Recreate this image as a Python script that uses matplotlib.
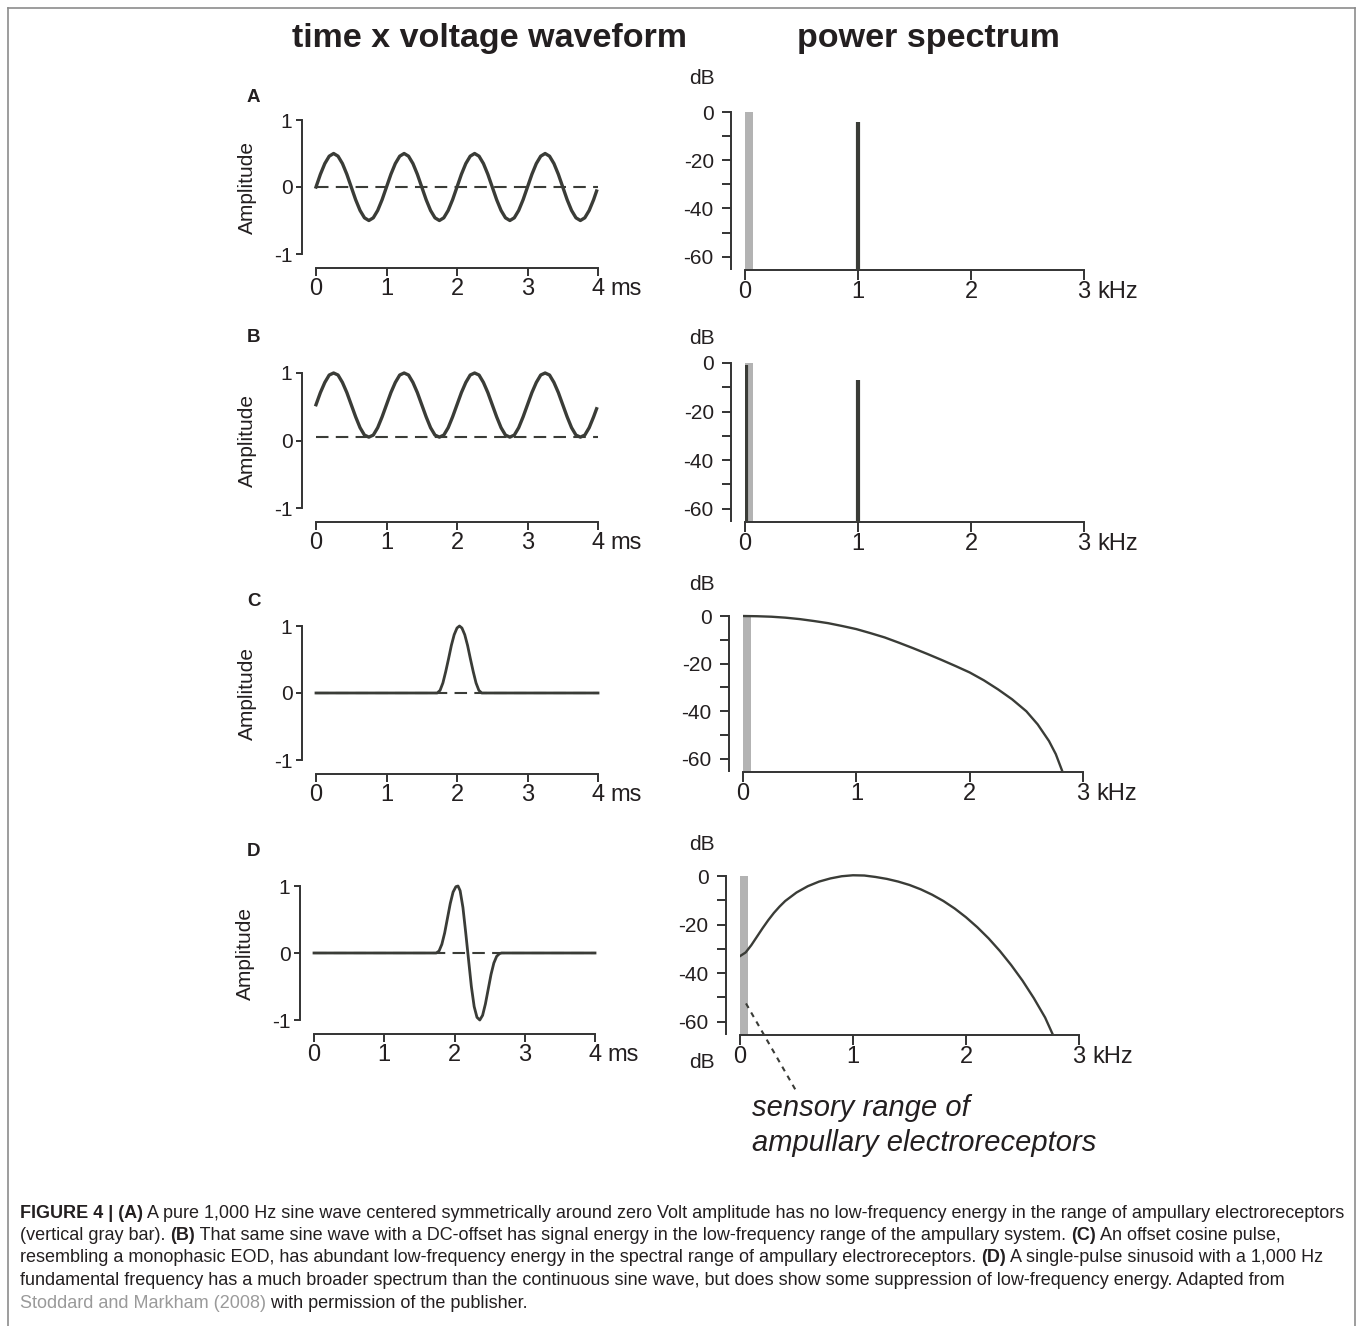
import numpy as np
import matplotlib
matplotlib.use("Agg")
import matplotlib.pyplot as plt

plt.rcParams['font.family'] = ['Liberation Sans', 'DejaVu Sans']

# ---- data ----
# one cycle of the 1 kHz sine, sampled every 1/16 ms
sine_a_cycle = [0.0, 0.19, 0.35, 0.46, 0.5, 0.46, 0.35, 0.19,
                0.0, -0.19, -0.35, -0.46, -0.5, -0.46, -0.35, -0.19]
sine_b_cycle = [0.53, 0.71, 0.86, 0.97, 1.0, 0.97, 0.86, 0.71,
                0.53, 0.35, 0.19, 0.08, 0.05, 0.08, 0.19, 0.35]
sine_t = np.arange(64) / 16.0
baseline_a = 0.0
baseline_b = 0.05

# offset cosine pulse (C)
pulse_c_t = [0.0, 1.72, 1.76, 1.80, 1.84, 1.88, 1.92, 1.96, 2.00, 2.035,
             2.07, 2.11, 2.15, 2.19, 2.23, 2.27, 2.31, 2.35, 4.0]
pulse_c_v = [0.0, 0.0, 0.04, 0.15, 0.32, 0.51, 0.71, 0.87, 0.97, 1.0,
             0.97, 0.87, 0.71, 0.51, 0.32, 0.15, 0.04, 0.0, 0.0]

# single-cycle sinusoid pulse (D)
pulse_d_t = [0.0, 1.74, 1.78, 1.82, 1.86, 1.90, 1.94, 1.98, 2.02, 2.05, 2.08,
             2.12, 2.16, 2.20, 2.24, 2.28, 2.32, 2.36, 2.40, 2.44, 2.48,
             2.52, 2.56, 2.60, 2.64, 2.67, 4.0]
pulse_d_v = [0.0, 0.0, 0.03, 0.13, 0.30, 0.52, 0.74, 0.91, 0.99, 1.0, 0.93,
             0.68, 0.30, -0.10, -0.50, -0.80, -0.96, -1.0, -0.93, -0.76, -0.54,
             -0.32, -0.15, -0.05, -0.01, 0.0, 0.0]

# spectra (kHz, dB)
spike_a_f = [1.0]
spike_a_db = [-4]
spike_b_f = [0.005, 1.0]
spike_b_db = [-1, -7]

spec_c_f = [0.0, 0.125, 0.25, 0.375, 0.5, 0.625, 0.75, 0.875, 1.0, 1.125,
            1.25, 1.375, 1.5, 1.625, 1.75, 1.875, 2.0, 2.125, 2.25, 2.375,
            2.5, 2.6, 2.7, 2.76, 2.82]
spec_c_db = [0.0, -0.1, -0.3, -0.7, -1.3, -2.1, -3.0, -4.2, -5.5, -7.2,
             -9.0, -11.2, -13.5, -15.9, -18.4, -21.0, -23.7, -27.0, -30.8, -35.0,
             -40.0, -45.5, -52.5, -58.0, -65.5]

spec_d_f = [0.0, 0.05, 0.1, 0.15, 0.2, 0.25, 0.3, 0.35, 0.4, 0.5, 0.6, 0.7,
            0.8, 0.9, 1.0, 1.1, 1.2, 1.3, 1.4, 1.5, 1.6, 1.7, 1.8, 1.9, 2.0,
            2.1, 2.2, 2.3, 2.4, 2.5, 2.6, 2.7, 2.77]
spec_d_db = [-33, -31.5, -28.5, -25, -21.5, -18.2, -15.2, -12.6, -10.3, -6.8,
             -4.2, -2.3, -1.0, -0.1, 0.3, 0.2, -0.4, -1.2, -2.3, -3.7, -5.5,
             -7.7, -10.3, -13.4, -17.0, -21.1, -25.7, -30.9, -36.7, -43.1,
             -50.3, -58.3, -65.5]

sensory_band = (0.0, 0.07)   # kHz

time_ticks = [0, 1, 2, 3, 4]
amp_ticks = [-1, 0, 1]
freq_ticks = [0, 1, 2, 3]
db_ticks = [0, -20, -40, -60]
db_minor = [-10, -30, -50]

# ---- style ----
W, H = 1358, 1326
ink = '#3a3c37'
txt = '#231f20'
gray = '#b3b3b3'
xfs, yfs = 17, 15
fig = plt.figure(figsize=(W / 100, H / 100), dpi=100)


def px_axes(left, right, top, bottom):
    return fig.add_axes([left / W, 1 - bottom / H, (right - left) / W, (bottom - top) / H])


def fig_text(x, y, s, **kw):
    return fig.text(x / W, 1 - y / H, s, **kw)


def style_time(ax, label_x):
    ax.set_xlim(0, 4)
    ax.set_ylim(-1, 1)
    for side in ['top', 'right']:
        ax.spines[side].set_visible(False)
    ax.spines['left'].set_position(('outward', 10))
    ax.spines['bottom'].set_position(('outward', 10))
    ax.spines['left'].set_bounds(-1, 1)
    ax.spines['bottom'].set_bounds(0, 4)
    for side in ['left', 'bottom']:
        ax.spines[side].set_linewidth(1.4)
        ax.spines[side].set_color('#333333')
    ax.set_xticks(time_ticks)
    ax.set_xticklabels([str(v) for v in time_ticks])
    ax.set_yticks(amp_ticks)
    ax.set_yticklabels([str(v) for v in amp_ticks])
    ax.tick_params(axis='x', length=6, width=1.4, pad=1, labelsize=xfs, colors='#333333', labelcolor=txt)
    ax.tick_params(axis='y', length=4, width=1.4, pad=3, labelsize=yfs, colors='#333333', labelcolor=txt)
    ax.set_ylabel('Amplitude', fontsize=15, color=txt)
    ax.yaxis.set_label_coords(label_x, 0.5)
    ax.annotate('ms', xy=(4, 0), xycoords=('data', 'axes fraction'),
                xytext=(9, -17), textcoords='offset points',
                ha='left', va='top', fontsize=xfs, color=txt)
    ax.patch.set_visible(False)


def style_spec(ax):
    ax.set_xlim(0, 3)
    ax.set_ylim(-65.5, 2)
    for side in ['top', 'right']:
        ax.spines[side].set_visible(False)
    ax.spines['left'].set_position(('outward', 10))
    ax.spines['left'].set_bounds(-65, 0)
    ax.spines['bottom'].set_bounds(0, 3)
    for side in ['left', 'bottom']:
        ax.spines[side].set_linewidth(1.4)
        ax.spines[side].set_color('#333333')
    ax.set_xticks(freq_ticks)
    ax.set_xticklabels([str(v) for v in freq_ticks])
    ax.set_yticks(db_ticks)
    ax.set_yticklabels([str(v) for v in db_ticks])
    ax.set_yticks(db_minor, minor=True)
    ax.tick_params(axis='x', length=7, width=1.4, pad=1, labelsize=xfs, colors='#333333', labelcolor=txt)
    ax.tick_params(axis='y', which='both', length=6.5, width=1.4, pad=6, labelsize=yfs, colors='#333333', labelcolor=txt)
    ax.annotate('kHz', xy=(3, 0), xycoords=('data', 'axes fraction'),
                xytext=(9.5, -8), textcoords='offset points',
                ha='left', va='top', fontsize=xfs, color=txt)
    ax.bar(sensory_band[0], 65.5, bottom=-65.5, width=sensory_band[1] - sensory_band[0],
           align='edge', color=gray, zorder=1)
    ax.patch.set_visible(False)


def dashed_base(ax, level):
    ax.plot([0, 4], [level, level], color=ink, lw=1.5, dashes=(6, 3.5), zorder=2)


# column titles
fig_text(490, 38, 'time x voltage waveform', ha='center', va='center',
         fontsize=24.5, fontweight='bold', color=txt)
fig_text(928, 38, 'power spectrum', ha='center', va='center',
         fontsize=24.5, fontweight='bold', color=txt)

# ---- left column ----
axA = px_axes(316, 598, 120, 254)
style_time(axA, -0.209)
dashed_base(axA, baseline_a)
t_a = np.append(sine_t, 3.98)
v_a = np.append(np.tile(sine_a_cycle, 4), -0.06)
axA.plot(t_a, v_a, color=ink, lw=2.4, zorder=3, clip_on=False)

axB = px_axes(316, 598, 373, 508)
style_time(axB, -0.209)
dashed_base(axB, baseline_b)
v_b = np.append(np.tile(sine_b_cycle, 4), 0.47)
axB.plot(t_a, v_b, color=ink, lw=2.4, zorder=3, clip_on=False)

axC = px_axes(316, 598, 626, 760)
style_time(axC, -0.209)
dashed_base(axC, 0.0)
axC.plot(pulse_c_t, pulse_c_v, color=ink, lw=2.0, zorder=3, clip_on=False)

axD = px_axes(314, 595, 886, 1020)
style_time(axD, -0.21)
dashed_base(axD, 0.0)
axD.plot(pulse_d_t, pulse_d_v, color=ink, lw=2.0, zorder=3, clip_on=False)

for lab, y in zip('ABCD', [98, 337, 602, 852]):
    fig_text(247, y, lab, ha='left', va='center', fontsize=13.5,
             fontweight='bold', color=txt)

# ---- right column ----
def spec_axes(left, right, zero_px, bottom_px):
    scale = (bottom_px - zero_px) / 65.5
    return px_axes(left, right, zero_px - 2 * scale, bottom_px)


sA = spec_axes(745, 1084, 112, 270)
style_spec(sA)
sA.vlines(spike_a_f, -65.5, spike_a_db, color=ink, lw=3.0, zorder=3)

sB = spec_axes(745, 1084, 363, 522)
style_spec(sB)
sB.vlines(spike_b_f, -65.5, spike_b_db, color=ink, lw=3.0, zorder=3)

sC = spec_axes(743, 1083, 616, 772)
style_spec(sC)
sC.plot(spec_c_f, spec_c_db, color=ink, lw=1.7, zorder=3)

sD = spec_axes(740, 1079, 876, 1035)
style_spec(sD)
sD.plot(spec_d_f, spec_d_db, color=ink, lw=1.7, zorder=3)
sD.plot([0.053, 0.49], [-52.5, -88], color=ink, lw=1.5, dashes=(2.5, 2.5),
        clip_on=False, zorder=3)

for y in [78, 338, 585, 845, 1062]:
    fig_text(702, y, 'dB', ha='center', va='center', fontsize=15, color=txt)

fig_text(752, 1108, 'sensory range of', ha='left', va='center',
         fontsize=21, style='italic', color=txt)
fig_text(752, 1143, 'ampullary electroreceptors', ha='left', va='center',
         fontsize=21, style='italic', color=txt)

# ---- frame ----
frame_kw = dict(color='#8c8c8c', lw=1.2, transform=fig.transFigure)
fig.add_artist(plt.Line2D([8 / W, 8 / W], [0, 1 - 8 / H], **frame_kw))
fig.add_artist(plt.Line2D([1355 / W, 1355 / W], [0, 1 - 8 / H], **frame_kw))
fig.add_artist(plt.Line2D([8 / W, 1355 / W], [1 - 8 / H, 1 - 8 / H], **frame_kw))

# ---- caption ----
renderer = fig.canvas.get_renderer()


def seg_width(s, **kw):
    t1 = fig.text(0, 0, '|' + s + '|', **kw)
    w1 = t1.get_window_extent(renderer).width
    t1.remove()
    t2 = fig.text(0, 0, '||', **kw)
    w2 = t2.get_window_extent(renderer).width
    t2.remove()
    return w1 - w2


N, B, G = 'normal', 'bold', 'gray'
caption = [
    [("FIGURE 4 | (A)", B), (" A pure 1,000 Hz sine wave centered symmetrically around zero Volt amplitude has no low-frequency energy in the range of ampullary electroreceptors", N)],
    [("(vertical gray bar). ", N), ("(B)", B), (" That same sine wave with a DC-offset has signal energy in the low-frequency range of the ampullary system. ", N), ("(C)", B), (" An offset cosine pulse,", N)],
    [("resembling a monophasic EOD, has abundant low-frequency energy in the spectral range of ampullary electroreceptors. ", N), ("(D)", B), (" A single-pulse sinusoid with a 1,000 Hz", N)],
    [("fundamental frequency has a much broader spectrum than the continuous sine wave, but does show some suppression of low-frequency energy. Adapted from", N)],
    [("Stoddard and Markham (2008)", G), (" with permission of the publisher.", N)],
]
line_y = [1213, 1235.5, 1258, 1280.5, 1303]
for segs, y in zip(caption, line_y):
    x = 20
    for s, kind in segs:
        kw = dict(fontsize=13.0, va='center', ha='left',
                  fontweight='bold' if kind == B else 'normal',
                  color='#9a9a9a' if kind == G else txt)
        fig_text(x, y, s, **kw)
        x += seg_width(s, **kw)

fig.savefig('out.png', dpi=100)
